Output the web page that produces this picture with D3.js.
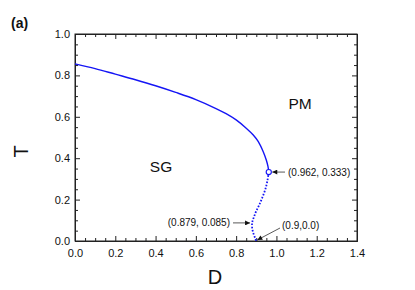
<!DOCTYPE html>
<html>
<head>
<meta charset="utf-8">
<script src="https://cdn.jsdelivr.net/npm/d3@7"></script>
<style>
  body { margin: 0; background: #fff; }
  svg { display: block; }
  .axis path, .axis line { stroke: #222; }
  .axis text { font-family: Arial, 'Liberation Sans', sans-serif; font-size: 11px; fill: #111; }
</style>
</head>
<body>
<div id="chart"></div>
<script>
// phase boundary, solid (continuous) part
const solidD = [0.0, 0.1, 0.2, 0.3, 0.4, 0.5, 0.6, 0.7, 0.75, 0.8, 0.85, 0.885, 0.91, 0.935, 0.95, 0.958, 0.962];
const solidT = [0.856, 0.833, 0.806, 0.779, 0.750, 0.718, 0.683, 0.640, 0.615, 0.585, 0.545, 0.512, 0.480, 0.430, 0.390, 0.360, 0.333];
// re-entrant, dotted part
const dotD = [0.962, 0.955, 0.945, 0.93, 0.915, 0.9, 0.888, 0.881, 0.879, 0.879, 0.882, 0.888, 0.894, 0.9];
const dotT = [0.333, 0.29, 0.25, 0.21, 0.175, 0.145, 0.115, 0.095, 0.085, 0.07, 0.05, 0.03, 0.015, 0.0];

const xTicks = [0.0, 0.2, 0.4, 0.6, 0.8, 1.0, 1.2, 1.4];
const yTicks = [0.0, 0.2, 0.4, 0.6, 0.8, 1.0];

const W = 415, H = 290;
const M = { left: 75, right: 58, top: 34, bottom: 49 };
const BLUE = '#1515f5';
const FONT = 'Arial, "Liberation Sans", sans-serif';

const svg = d3.select('#chart').append('svg')
  .attr('width', W).attr('height', H);

const x = d3.scaleLinear().domain([0, 1.4]).range([M.left, W - M.right]);
const y = d3.scaleLinear().domain([0, 1.0]).range([H - M.bottom, M.top]);

const xMinor = d3.range(0, 1.4001, 0.05).filter(v => Math.abs(v * 5 - Math.round(v * 5)) > 1e-6);
const yMinor = d3.range(0, 1.0001, 0.05).filter(v => Math.abs(v * 5 - Math.round(v * 5)) > 1e-6);

const fmt = d3.format('.1f');

// bottom
svg.append('g').attr('class', 'axis')
  .attr('transform', `translate(0,${y(0)})`)
  .call(d3.axisBottom(x).tickValues(xTicks).tickFormat(fmt).tickSize(-5).tickPadding(8).tickSizeOuter(0));
svg.append('g').attr('class', 'axis')
  .attr('transform', `translate(0,${y(0)})`)
  .call(d3.axisBottom(x).tickValues(xMinor).tickFormat('').tickSize(-3).tickSizeOuter(0));
// top
svg.append('g').attr('class', 'axis')
  .attr('transform', `translate(0,${y(1)})`)
  .call(d3.axisTop(x).tickValues(xTicks).tickFormat('').tickSize(-5).tickSizeOuter(0));
svg.append('g').attr('class', 'axis')
  .attr('transform', `translate(0,${y(1)})`)
  .call(d3.axisTop(x).tickValues(xMinor).tickFormat('').tickSize(-3).tickSizeOuter(0));
// left
svg.append('g').attr('class', 'axis')
  .attr('transform', `translate(${x(0)},0)`)
  .call(d3.axisLeft(y).tickValues(yTicks).tickFormat(fmt).tickSize(-5).tickPadding(5).tickSizeOuter(0));
svg.append('g').attr('class', 'axis')
  .attr('transform', `translate(${x(0)},0)`)
  .call(d3.axisLeft(y).tickValues(yMinor).tickFormat('').tickSize(-3).tickSizeOuter(0));
// right
svg.append('g').attr('class', 'axis')
  .attr('transform', `translate(${x(1.4)},0)`)
  .call(d3.axisRight(y).tickValues(yTicks).tickFormat('').tickSize(-5).tickSizeOuter(0));
svg.append('g').attr('class', 'axis')
  .attr('transform', `translate(${x(1.4)},0)`)
  .call(d3.axisRight(y).tickValues(yMinor).tickFormat('').tickSize(-3).tickSizeOuter(0));

// frame
svg.append('rect')
  .attr('x', x(0)).attr('y', y(1))
  .attr('width', x(1.4) - x(0)).attr('height', y(0) - y(1))
  .attr('fill', 'none').attr('stroke', '#222').attr('stroke-width', 1);

// curves
const line = d3.line().x(d => x(d[0])).y(d => y(d[1])).curve(d3.curveCatmullRom.alpha(0.5));
svg.append('path')
  .datum(d3.zip(solidD, solidT))
  .attr('d', line)
  .attr('fill', 'none').attr('stroke', BLUE).attr('stroke-width', 1.4);
svg.append('path')
  .datum(d3.zip(dotD, dotT))
  .attr('d', line)
  .attr('fill', 'none').attr('stroke', BLUE).attr('stroke-width', 1.8)
  .attr('stroke-dasharray', '1.6,1.6');

// tricritical marker
svg.append('circle')
  .attr('cx', x(0.962)).attr('cy', y(0.333)).attr('r', 2.6)
  .attr('fill', '#fff').attr('stroke', BLUE).attr('stroke-width', 1.1);

// arrow head
svg.append('defs').append('marker')
  .attr('id', 'ah').attr('viewBox', '0 0 10 10')
  .attr('refX', 10).attr('refY', 5)
  .attr('markerWidth', 7).attr('markerHeight', 5)
  .attr('markerUnits', 'userSpaceOnUse')
  .attr('orient', 'auto')
  .append('path').attr('d', 'M0,0 L10,5 L0,10 Z').attr('fill', '#111');

const arrow = (x1, y1, x2, y2) => svg.append('line')
  .attr('x1', x1).attr('y1', y1).attr('x2', x2).attr('y2', y2)
  .attr('stroke', '#111').attr('stroke-width', 0.7)
  .attr('marker-end', 'url(#ah)');

const note = (tx, ty, anchor, txt) => svg.append('text')
  .attr('x', tx).attr('y', ty).attr('text-anchor', anchor)
  .attr('font-family', FONT).attr('font-size', 10).attr('fill', '#111')
  .text(txt);

arrow(285, y(0.333), x(0.962) + 3.5, y(0.333));
note(288, y(0.333) + 3.5, 'start', '(0.962, 0.333)');

arrow(233, y(0.085) - 0.5, x(0.879) - 2, y(0.085) - 0.5);
note(230, y(0.085) + 3, 'end', '(0.879, 0.085)');

arrow(280, 228, x(0.9) + 1, y(0) - 1);
note(282, 228.5, 'start', '(0.9,0.0)');

// phase labels
svg.append('text').attr('x', 161).attr('y', 171.5).attr('text-anchor', 'middle')
  .attr('font-family', FONT).attr('font-size', 15.5).attr('fill', '#111').text('SG');
svg.append('text').attr('x', 300).attr('y', 109).attr('text-anchor', 'middle')
  .attr('font-family', FONT).attr('font-size', 15.5).attr('fill', '#111').text('PM');

// axis titles
svg.append('text').attr('x', 215).attr('y', 284).attr('text-anchor', 'middle')
  .attr('font-family', FONT).attr('font-size', 20).attr('fill', '#111').text('D');
svg.append('text')
  .attr('transform', `translate(28,${(y(0) + y(1)) / 2 + 14}) rotate(-90)`)
  .attr('text-anchor', 'middle')
  .attr('font-family', FONT).attr('font-size', 20).attr('fill', '#111').text('T');

// panel label
svg.append('text').attr('x', 11).attr('y', 28)
  .attr('font-family', FONT).attr('font-size', 14).attr('font-weight', 'bold')
  .attr('fill', '#111').text('(a)');
</script>
</body>
</html>
